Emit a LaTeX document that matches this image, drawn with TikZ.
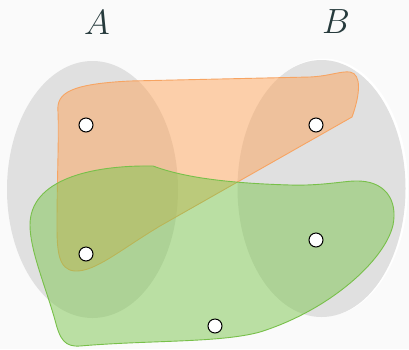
\RequirePackage{fix-cm}
\documentclass[tikz,border=0pt]{standalone}
\usepackage{fontspec}
\definecolor{bgc}{HTML}{FAFAFA}
\definecolor{setgray}{HTML}{E0E0E0}
\definecolor{orfill}{HTML}{FF9D4C}
\definecolor{orline}{HTML}{F7A462}
\definecolor{grfill}{HTML}{7CC64E}
\definecolor{grline}{HTML}{78C04A}
\definecolor{labc}{HTML}{263A3C}
\tikzset{
  vtx/.style={circle, draw=black, fill=white, line width=1pt, minimum size=14pt, inner sep=0pt},
  setlab/.style={text=labc, font=\fontsize{35}{35}\selectfont},
  setell/.style={fill=setgray},
  orset/.style={fill=orfill, fill opacity=0.46, draw=orline, line width=0.9pt},
  grset/.style={fill=grfill, fill opacity=0.5, draw=grline, line width=0.9pt},
}
\begin{document}
\begin{tikzpicture}[x=1pt,y=-1pt]
\fill[bgc] (0,0) rectangle (409,349);
\useasboundingbox (0,0) rectangle (409,349);
% set ellipses
\fill[setell] (92.5,189.5) ellipse [x radius=85.5, y radius=128.5];
\fill[white] (323.5,187.5) ellipse [x radius=84.5, y radius=129];
\fill[setell] (321.5,188.5) ellipse [x radius=84, y radius=128.5];
% labels
\node[setlab] (labA) at (97,23) {$A$};
\node[setlab] (labB) at (336,22) {$B$};
% orange hyperedge
\path[orset] (352,117) -- (160,226) .. controls (120,250) and (95,272) .. (75,271)
  .. controls (58,270) and (57,250) .. (57,225)
  .. controls (57,180) and (59,140) .. (58,112)
  .. controls (56,93) and (70,84) .. (130,81)
  -- (310,77) .. controls (330,76) and (340,71) .. (350,72)
  .. controls (362,74) and (360,95) .. (352,117) -- cycle;
% green hyperedge
\path[grset] (153,166) .. controls (180,176) and (220,183) .. (290,185)
  .. controls (320,186) and (345,181) .. (355,181)
  .. controls (385,180) and (398,200) .. (393,225)
  .. controls (385,260) and (330,310) .. (260,332)
  .. controls (220,343) and (150,340) .. (80,346)
  .. controls (65,347) and (60,340) .. (55,320)
  .. controls (45,285) and (30,250) .. (30,225)
  .. controls (30,180) and (90,165) .. (153,166) -- cycle;
% vertices
\node[vtx] (a1) at (86,125) {};
\node[vtx] (a2) at (86,254) {};
\node[vtx] (b1) at (316,125) {};
\node[vtx] (b2) at (316,240) {};
\node[vtx] (c1) at (215,326) {};
\end{tikzpicture}
\end{document}
